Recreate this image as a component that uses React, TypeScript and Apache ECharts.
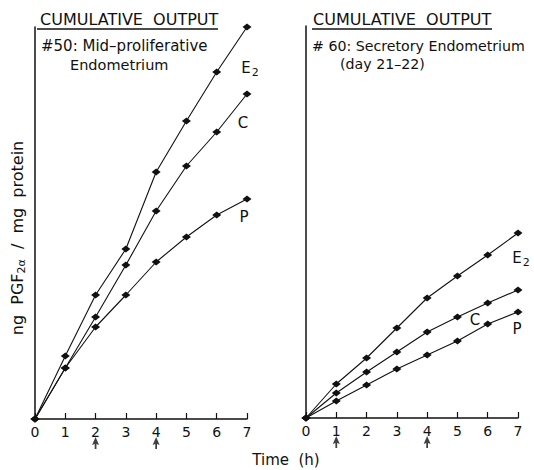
import React, { useEffect, useRef } from "react";
import * as echarts from "echarts";

const hours = [0, 1, 2, 3, 4, 5, 6, 7];
const xTicks = ["0", "1", "2", "3", "4", "5", "6", "7"];

// Left panel: #50 Mid-proliferative endometrium (arbitrary units)
const leftE2 = [0, 63, 124, 170, 247, 298, 347, 392];
const leftC = [0, 51, 102, 154, 208, 253, 287, 325];
const leftP = [0, 51, 92, 124, 157, 182, 204, 220];
const leftArrows = [2, 4];

// Right panel: #60 Secretory endometrium (day 21-22)
const rightE2 = [0, 34, 60, 90, 120, 142, 163, 185];
const rightC = [0, 25, 46, 66, 86, 101, 115, 128];
const rightP = [0, 17, 33, 49, 63, 77, 94, 106];
const rightArrows = [1, 4];

const FONT = "DejaVu Sans";
const INK = "#111";

function labelled(values: number[], idx: number, text: string, offset: number[]) {
  return values.map((v, i) =>
    i === idx
      ? {
          value: [hours[i], v],
          label: {
            show: true,
            position: "inside",
            offset,
            formatter: text,
            rich: {
              m: { fontFamily: FONT, fontSize: 15, color: INK },
              s: { fontFamily: FONT, fontSize: 11, color: INK, padding: [8, 0, 0, 1] },
            },
          },
        }
      : { value: [hours[i], v] }
  );
}

function lineSeries(name: string, data: any[], axisIndex: number) {
  return {
    name,
    type: "line",
    xAxisIndex: axisIndex,
    yAxisIndex: axisIndex,
    data,
    symbol: "diamond",
    symbolSize: [9, 7],
    showSymbol: true,
    clip: false,
    lineStyle: { color: INK, width: 1.1 },
    itemStyle: { color: INK },
    label: { show: false },
    z: 3,
  };
}

function arrowSeries(xs: number[], axisIndex: number) {
  return {
    type: "scatter",
    xAxisIndex: axisIndex,
    yAxisIndex: axisIndex,
    data: xs.map((x) => [x, 0]),
    symbol: "path://M0,0 L4,8 L1,7 L1,12 L-1,12 L-1,7 L-4,8 Z",
    symbolSize: [7, 12],
    symbolOffset: [0, 24],
    clip: false,
    itemStyle: { color: INK },
    silent: true,
  };
}

function xAxis(gridIndex: number) {
  return {
    type: "value",
    gridIndex,
    min: 0,
    max: 7,
    interval: 1,
    axisLine: { show: true, onZero: false, lineStyle: { color: INK, width: 1.5 } },
    axisTick: { show: true, inside: true, length: 6, lineStyle: { color: INK, width: 1.2 } },
    axisLabel: {
      color: INK,
      fontFamily: FONT,
      fontSize: 14,
      margin: 6,
      formatter: (v: number) => xTicks[v] ?? "",
    },
    splitLine: { show: false },
  };
}

function yAxis(gridIndex: number) {
  return {
    type: "value",
    gridIndex,
    min: 0,
    max: 392,
    axisLine: { show: true, lineStyle: { color: INK, width: 1.5 } },
    axisTick: { show: false },
    axisLabel: { show: false },
    splitLine: { show: false },
  };
}

export default function App() {
  const ref = useRef<HTMLDivElement>(null);
  useEffect(() => {
    if (!ref.current) return;
    const chart = echarts.init(ref.current, null, { renderer: "svg" });
    const txt = (text: string, x: number, y: number, size: number, align = "left") => ({
      type: "text",
      x,
      y,
      style: {
        text,
        fill: INK,
        fontFamily: FONT,
        fontSize: size,
        textAlign: align,
        textVerticalAlign: "middle",
      },
    });
    chart.setOption({
      animation: false,
      backgroundColor: "#fff",
      grid: [
        { left: 35, top: 27, width: 212, height: 392 },
        { left: 306, top: 26, width: 212, height: 392 },
      ],
      xAxis: [xAxis(0), xAxis(1)],
      yAxis: [yAxis(0), yAxis(1)],
      series: [
        lineSeries("E2", labelled(leftE2, 7, "{m|E}{s|2}", [3, 41]), 0),
        lineSeries("C", labelled(leftC, 7, "{m|C}", [-4, 29]), 0),
        lineSeries("P", labelled(leftP, 7, "{m|P}", [-3, 18]), 0),
        lineSeries("E2r", labelled(rightE2, 7, "{m|E}{s|2}", [3, 25]), 1),
        lineSeries("Cr", labelled(rightC, 7, "{m|C}", [-43, 30]), 1),
        lineSeries("Pr", labelled(rightP, 7, "{m|P}", [-1, 17]), 1),
        arrowSeries(leftArrows, 0),
        arrowSeries(rightArrows, 1),
      ],
      graphic: [
        txt("CUMULATIVE  OUTPUT", 40, 19, 16),
        { type: "line", shape: { x1: 37, y1: 29, x2: 218, y2: 29 }, style: { stroke: INK, lineWidth: 1.3 } },
        txt("#50: Mid\u2013proliferative", 41, 46, 15),
        txt("Endometrium", 70, 65, 14.5),
        txt("CUMULATIVE  OUTPUT", 313, 19, 16),
        { type: "line", shape: { x1: 312, y1: 29, x2: 492, y2: 29 }, style: { stroke: INK, lineWidth: 1.3 } },
        txt("# 60: Secretory Endometrium", 312, 46, 14.2),
        txt("(day 21\u201322)", 340, 64, 14.2),
        txt("Time  (h)", 286, 460, 15, "center"),
        {
          type: "text",
          x: 17,
          y: 238,
          rotation: Math.PI / 2,
          style: {
            text: "{n|ng  PGF}{s|2\u03b1}{n|  /  mg  protein}",
            textAlign: "center",
            textVerticalAlign: "middle",
            rich: {
              n: { fontFamily: FONT, fontSize: 16, fill: INK, color: INK },
              s: { fontFamily: FONT, fontSize: 11, fill: INK, color: INK, padding: [8, 0, 0, 0] },
            },
          },
        },
      ],
    });
    return () => chart.dispose();
  }, []);
  return (
    <div
      ref={ref}
      style={{ position: "absolute", left: 0, top: 0, width: 534, height: 470 }}
    />
  );
}
